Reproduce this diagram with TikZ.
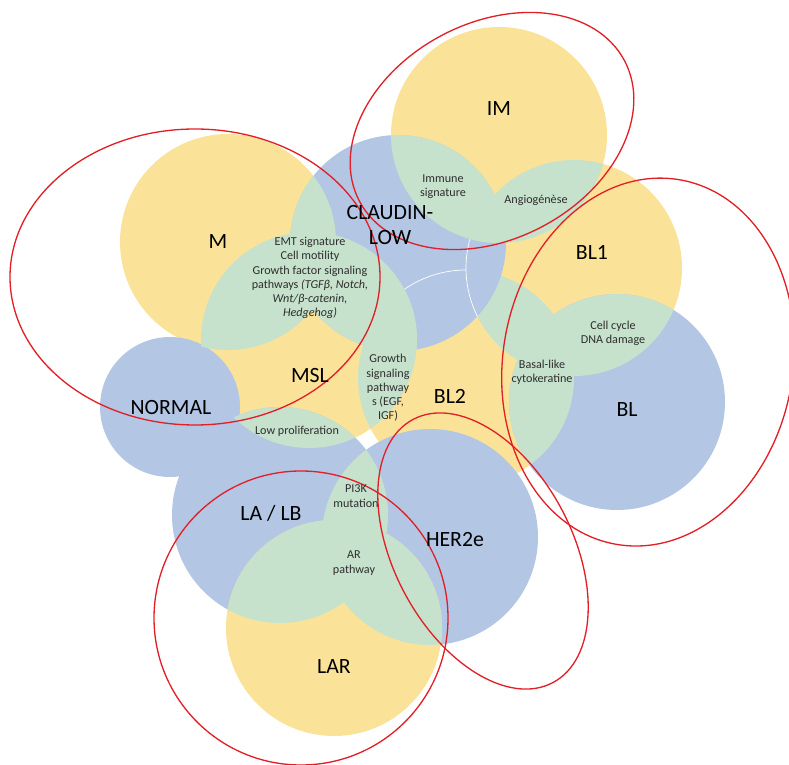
\documentclass[tikz,border=0pt]{standalone}
\usepackage{fontspec}
\setmainfont{Carlito}
\usepackage{tikz}
\usepackage{xcolor}
\definecolor{venyellow}{RGB}{250,227,152}
\definecolor{venblue}{RGB}{179,199,229}
\definecolor{vengreen}{RGB}{198,226,204}
\definecolor{ringred}{RGB}{226,30,38}
\definecolor{textgrey}{RGB}{45,45,45}
\newcommand{\overlap}[2]{ % Takes the two circle centres as arguments, fills their common lens in green
    \begin{scope}
        \clip (#1) circle (108);
        \fill[vengreen] (#2) circle (108);
    \end{scope}
}

\begin{document}
\begin{tikzpicture}[x=0.2mm, y=0.2mm,
        subtype/.style={font=\fontsize{12.4}{14.2}\selectfont, align=center, inner sep=0pt},
        feature/.style={font=\fontsize{6.9}{8.1}\selectfont, text=textgrey, align=center, inner sep=0pt},
        group/.style={draw=ringred, line width=0.75pt}]
                \useasboundingbox (0,0) rectangle (789,-765);

                % Centres of the subtypes
                \coordinate (im) at (499,-135);
                \coordinate (claudin) at (398,-243);
                \coordinate (m) at (228,-242);
                \coordinate (blone) at (574,-268);
                \coordinate (bl) at (617,-402);
                \coordinate (bltwo) at (466,-378);
                \coordinate (msl) at (309,-340);
                \coordinate (normal) at (170,-407);
                \coordinate (lalb) at (280,-515);
                \coordinate (her) at (430,-537);
                \coordinate (lar) at (334,-628);

                % Circles at the back
                \fill[venyellow] (m) circle (108);
                \fill[venyellow] (msl) circle (108);
                \fill[venyellow] (bltwo) circle (108);
                \fill[venyellow] (blone) circle (108);
                \fill[venyellow] (im) circle (108);
                \fill[venblue] (bl) circle (108);
                \overlap{blone}{bltwo}
                \overlap{blone}{bl}
                \overlap{bl}{bltwo}

                % Circles in front
                \fill[venblue] (claudin) circle (108);
                \begin{scope}
                    \clip (claudin) circle (108);
                    \draw[white, line width=0.4pt] (blone) circle (108);
                \end{scope}
                \draw[white, line width=0.4pt] (bltwo) ++(90:108) arc[start angle=90, end angle=125, radius=108];
                \fill[venblue] (normal) circle (70);
                \fill[venblue] (lalb) circle (108);
                \fill[venblue] (her) circle (108);
                \fill[venyellow] (lar) circle (108);

                % Shared signatures
                \overlap{m}{claudin}
                \overlap{m}{msl}
                \overlap{claudin}{msl}
                \overlap{msl}{bltwo}
                \overlap{im}{claudin}
                \overlap{im}{blone}
                \overlap{msl}{lalb}
                \overlap{lalb}{her}
                \overlap{lalb}{lar}
                \overlap{her}{lar}

                % Groupings
                \coordinate (mring) at (195,-277);
                \coordinate (imring) at (492,-131);
                \coordinate (blring) at (648,-362);
                \coordinate (herring) at (483,-551);
                \coordinate (larring) at (301,-618);
                \draw[group] (mring) ellipse [x radius=185, y radius=148];
                \draw[group, rotate around={28:(imring)}] (imring) ellipse [x radius=150, y radius=108];
                \draw[group, rotate around={-10:(blring)}] (blring) ellipse [x radius=145, y radius=185];
                \draw[group, rotate around={28:(herring)}] (herring) ellipse [x radius=89, y radius=149];
                \draw[group] (larring) circle (147);

                % Subtype names
                \node[subtype] (imlabel) at (499,-109) {IM};
                \node[subtype] (claudinlabel) at (390,-225) {CLAUDIN-\\LOW};
                \node[subtype] (mlabel) at (218,-242) {M};
                \node[subtype] (blonelabel) at (592,-252) {BL1};
                \node[subtype] (bllabel) at (627,-410) {BL};
                \node[subtype] (bltwolabel) at (450,-396) {BL2};
                \node[subtype] (msllabel) at (310,-376) {MSL};
                \node[subtype] (normallabel) at (171,-408) {NORMAL};
                \node[subtype] (lalblabel) at (271,-513) {LA / LB};
                \node[subtype] (herlabel) at (455,-540) {HER2e};
                \node[subtype] (larlabel) at (334,-667) {LAR};

                % Signatures
                \node[feature] (emt) at (310,-278) {EMT signature\\Cell motility\\Growth factor signaling\\pathways \textit{(TGFβ, Notch,}\\\textit{Wnt/β-catenin,}\\\textit{Hedgehog)}};
                \node[feature] (immune) at (443,-187) {Immune\\signature};
                \node[feature] (angio) at (536,-200) {Angiogénèse};
                \node[feature] (cellcycle) at (613,-333) {Cell cycle\\DNA damage};
                \node[feature] (basal) at (542,-372) {Basal-like\\cytokeratine};
                \node[feature] (growth) at (388,-388) {Growth\\signaling\\pathway\\s (EGF,\\IGF)};
                \node[feature] (lowprolif) at (297,-431) {Low proliferation};
                \node[feature] (pik) at (356,-496) {PI3K\\mutation};
                \node[feature] (arpath) at (354,-563) {AR\\pathway};
            \end{tikzpicture}
\end{document}
